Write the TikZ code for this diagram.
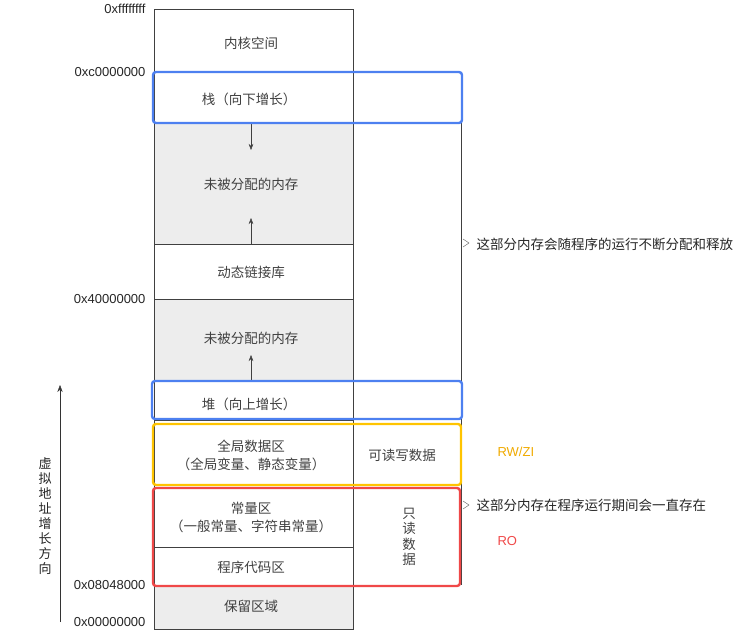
\documentclass[tikz,border=0pt]{standalone}
\usepackage{fontspec}
\setmainfont{Liberation Sans}
\newfontfamily\cjk{Noto Sans CJK SC}
\usetikzlibrary{arrows.meta}
\begin{document}
\begin{tikzpicture}[x=1pt,y=-1pt,font=\cjk\fontsize{13.5}{18}\selectfont,
  txt/.style={text=black!75,align=center},
  addr/.style={anchor=east,font=\fontsize{13}{14}\selectfont,text=black!85},
  cell/.style={draw=black!75,line width=0.6pt},
  hl/.style={rounded corners=3pt,line width=2.4pt}]
\useasboundingbox (0,0) rectangle (747,642);
% gray fills
\fill[black!7] (154,123) rectangle (353,244);
\fill[black!7] (154,299) rectangle (353,381);
\fill[black!7] (154,585) rectangle (353,629);
% main column
\draw[cell] (154,9) rectangle (353,629);
\foreach \y in {72,123,244,299,381,420,487,547,585} \draw[cell] (154,\y) -- (353,\y);
% right column
\draw[cell] (461,72) -- (461,585);
% arrows inside
\coordinate (a1) at (251,123); \coordinate (a2) at (251,150);
\draw[-{Stealth[length=6pt]},black!75] (a1) -- (a2);
\coordinate (b1) at (251,244); \coordinate (b2) at (251,218);
\draw[-{Stealth[length=6pt]},black!75] (b1) -- (b2);
\coordinate (c1) at (251,381); \coordinate (c2) at (251,355);
\draw[-{Stealth[length=6pt]},black!75] (c1) -- (c2);
% texts
\node[txt] (k) at (251,43) {内核空间};
\node[txt] (s) at (249,99) {栈（向下增长）};
\node[txt] (u1) at (251,184) {未被分配的内存};
\node[txt] (d) at (251,272) {动态链接库};
\node[txt] (u2) at (251,338) {未被分配的内存};
\node[txt] (h) at (249,404) {堆（向上增长）};
\node[txt] (g) at (251,455) {全局数据区\\（全局变量、静态变量）};
\node[txt] (c) at (251,517) {常量区\\（一般常量、字符串常量）};
\node[txt] (p) at (251,567) {程序代码区};
\node[txt] (r) at (251,606) {保留区域};
\node[txt] (rw) at (402,455) {可读写数据};
\node[txt,font=\cjk\fontsize{13.5}{15.5}\selectfont] (ro) at (409,537) {只\\读\\数\\据};
% addresses
\node[addr] at (149,9) {0xffffffff};
\node[addr] at (149,72) {0xc0000000};
\node[addr] at (149,299) {0x40000000};
\node[addr] at (149,585) {0x08048000};
\node[addr] at (149,622) {0x00000000};
% highlight boxes
\draw[hl,draw={rgb,255:red,77;green,128;blue,240}] (153,72) rectangle (462,123);
\draw[hl,draw={rgb,255:red,77;green,128;blue,240}] (152,381) rectangle (462,419);
\draw[hl,draw={rgb,255:red,255;green,196;blue,0}] (153,424) rectangle (461,485);
\draw[hl,draw={rgb,255:red,240;green,72;blue,72}] (153,488) rectangle (460,586);
% bracket marks
\draw[black!70] (463,239) -- (469,243) -- (463,247);
\draw[black!70] (463,501) -- (469,505) -- (463,509);
\node[anchor=west,text=black!85] (n1) at (473,244) {这部分内存会随程序的运行不断分配和释放};
\node[anchor=west,text=black!85] (n2) at (473,505) {这部分内存在程序运行期间会一直存在};
\node[anchor=west,text={rgb,255:red,240;green,170;blue,0},font=\fontsize{13}{14}\selectfont] (rwz) at (494,452) {RW/ZI};
\node[anchor=west,text={rgb,255:red,240;green,72;blue,72},font=\fontsize{13}{14}\selectfont] (rol) at (494,541) {RO};
% growth arrow
\coordinate (g1) at (60,622); \coordinate (g2) at (60,385);
\draw[-{Stealth[length=7pt]},black!80] (g1) -- (g2);
\node[txt,text=black!85,font=\cjk\fontsize{13}{15}\selectfont] (gl) at (45,516) {虚\\拟\\地\\址\\增\\长\\方\\向};
\end{tikzpicture}
\end{document}
